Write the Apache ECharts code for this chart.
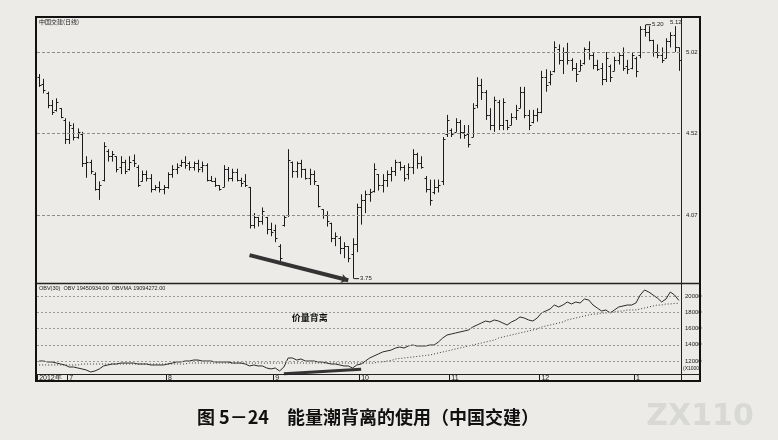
<!DOCTYPE html>
<html><head><meta charset="utf-8">
<script src="https://cdn.jsdelivr.net/npm/echarts@6/dist/echarts.min.js"></script>
<style>html,body{margin:0;padding:0;background:#ecebe7;}#c{width:778px;height:440px;}</style>
</head><body><div id="c"></div>
<script>
// ---- price bars (daily OHLC) ----
const highs=[4.88,4.85,4.77,4.72,4.73,4.67,4.61,4.59,4.58,4.55,
4.53,4.39,4.37,4.30,4.25,4.47,4.43,4.42,4.39,4.39,
4.37,4.39,4.40,4.34,4.31,4.31,4.29,4.23,4.25,4.23,
4.30,4.34,4.35,4.37,4.39,4.36,4.36,4.37,4.36,4.35,
4.28,4.27,4.23,4.34,4.33,4.32,4.32,4.27,4.29,4.22,
4.08,4.06,4.11,4.06,4.03,4.02,3.92,4.07,4.43,4.36,
4.36,4.37,4.32,4.32,4.31,4.23,4.10,4.09,4.03,3.98,
3.96,3.93,3.91,3.95,4.13,4.18,4.20,4.21,4.35,4.29,
4.29,4.31,4.33,4.37,4.36,4.34,4.35,4.43,4.41,4.39,
4.28,4.26,4.26,4.26,4.50,4.63,4.55,4.61,4.60,4.57,
4.57,4.70,4.86,4.85,4.78,4.67,4.74,4.72,4.73,4.60,
4.64,4.69,4.80,4.80,4.66,4.66,4.67,4.90,4.91,4.90,
5.09,5.07,5.05,5.08,4.98,4.95,4.97,5.05,5.09,5.02,
4.97,4.95,5.02,4.94,4.99,5.02,5.05,4.97,5.02,4.99,
5.19,5.20,5.19,5.10,5.07,5.05,5.11,5.15,5.19,5.05];
const lows=[4.80,4.76,4.67,4.63,4.65,4.61,4.46,4.46,4.48,4.49,
4.33,4.27,4.29,4.20,4.15,4.25,4.36,4.36,4.30,4.29,
4.29,4.31,4.33,4.22,4.25,4.25,4.19,4.20,4.19,4.18,
4.21,4.27,4.29,4.33,4.32,4.31,4.31,4.30,4.30,4.25,
4.25,4.22,4.20,4.22,4.25,4.25,4.25,4.22,4.22,4.00,
4.00,4.01,4.02,3.97,3.96,3.93,3.83,4.01,4.06,4.27,
4.27,4.27,4.26,4.23,4.23,4.11,4.05,4.01,3.93,3.91,
3.87,3.85,3.83,3.75,3.88,4.02,4.08,4.14,4.19,4.20,
4.19,4.22,4.25,4.28,4.31,4.25,4.26,4.29,4.32,4.32,
4.19,4.12,4.18,4.19,4.23,4.50,4.50,4.53,4.49,4.49,
4.44,4.50,4.67,4.72,4.60,4.54,4.53,4.54,4.54,4.54,
4.57,4.60,4.67,4.61,4.54,4.58,4.59,4.64,4.77,4.81,
4.89,4.94,4.88,4.94,4.90,4.83,4.90,4.94,4.97,4.91,
4.90,4.81,4.83,4.83,4.90,4.94,4.90,4.88,4.91,4.86,
4.98,5.12,5.09,4.99,4.98,4.95,4.98,5.05,5.02,4.90];
const opens=[4.86,4.82,4.76,4.69,4.66,4.67,4.60,4.49,4.55,4.50,
4.52,4.35,4.36,4.29,4.21,4.26,4.42,4.39,4.39,4.33,
4.36,4.32,4.37,4.33,4.25,4.29,4.27,4.21,4.22,4.21,
4.22,4.29,4.32,4.34,4.36,4.35,4.33,4.35,4.33,4.34,
4.26,4.25,4.23,4.22,4.32,4.27,4.30,4.26,4.25,4.22,
4.02,4.06,4.04,4.06,4.00,3.99,3.91,4.02,4.07,4.36,
4.31,4.35,4.32,4.27,4.29,4.23,4.10,4.07,4.03,3.95,
3.95,3.90,3.91,3.87,3.92,4.11,4.15,4.18,4.20,4.29,
4.23,4.26,4.29,4.31,4.36,4.33,4.29,4.33,4.40,4.35,
4.27,4.21,4.19,4.22,4.25,4.52,4.54,4.53,4.59,4.53,
4.52,4.50,4.69,4.81,4.77,4.63,4.57,4.71,4.57,4.60,
4.57,4.62,4.67,4.77,4.63,4.59,4.63,4.65,4.86,4.83,
4.90,5.04,4.97,5.02,4.97,4.92,4.90,4.95,5.04,5.00,
4.94,4.92,4.85,4.93,4.90,4.97,5.00,4.93,4.92,4.98,
5.00,5.17,5.15,5.10,5.02,5.00,4.98,5.09,5.13,5.05];
const closes=[4.81,4.78,4.69,4.65,4.71,4.62,4.49,4.57,4.50,4.53,
4.35,4.36,4.31,4.21,4.23,4.45,4.39,4.40,4.32,4.36,
4.31,4.36,4.35,4.23,4.29,4.27,4.21,4.22,4.21,4.22,
4.29,4.32,4.33,4.36,4.34,4.33,4.35,4.32,4.34,4.26,
4.25,4.23,4.21,4.32,4.27,4.30,4.26,4.24,4.23,4.02,
4.06,4.04,4.09,4.00,3.98,3.95,3.85,4.06,4.37,4.31,
4.35,4.32,4.27,4.29,4.25,4.12,4.07,4.04,3.95,3.96,
3.90,3.91,3.85,3.92,4.11,4.15,4.18,4.19,4.32,4.23,
4.26,4.29,4.31,4.36,4.33,4.27,4.33,4.40,4.35,4.33,
4.21,4.15,4.22,4.23,4.49,4.60,4.52,4.59,4.53,4.51,
4.46,4.67,4.81,4.77,4.63,4.57,4.72,4.57,4.71,4.56,
4.62,4.66,4.77,4.63,4.57,4.63,4.65,4.86,4.81,4.88,
5.05,4.97,5.02,4.97,4.92,4.88,4.94,5.04,5.00,4.94,
4.91,4.85,4.98,4.86,4.97,5.00,4.92,4.91,5.00,4.90,
5.17,5.15,5.10,5.02,5.00,4.97,5.09,5.13,5.05,4.97];
// ---- OBV and its 30-day average (x1000) ----
const obv=[12000,12000,11880,11880,11750,11630,11510,11260,11260,11140,
11020,10890,10650,10770,11020,11390,11510,11630,11630,11750,
11750,11750,11750,11630,11630,11630,11510,11510,11510,11510,
11630,11750,11880,11880,12000,12000,12120,12120,12000,12000,
12000,11880,11880,11880,11880,11750,11750,11750,11630,11390,
11510,11390,11390,11140,11020,11140,10770,11260,12370,12370,
12120,12250,12000,12000,12000,11880,11880,11750,11630,11630,
11510,11390,11390,11140,11510,11630,12000,12370,12620,12860,
13110,13230,13350,13600,13720,13600,13850,13970,13850,13850,
13850,13970,13970,14340,14830,15200,15320,15450,15570,15690,
15820,16180,16430,16680,16920,16800,17050,16920,16680,16430,
16800,17050,17420,17290,17050,16920,17290,17910,18150,18400,
18890,18650,18890,19260,19020,19260,19140,19630,19510,18890,
18520,18150,18280,17910,18280,18650,18770,18890,18890,19140,
20120,20740,20490,20120,19750,19260,19630,20490,20120,19451];
const obvMa=[11510,11510,11510,11510,11510,11510,11510,11510,11510,11510,
11630,11630,11630,11630,11630,11630,11630,11630,11630,11630,
11630,11630,11630,11630,11630,11630,11630,11630,11630,11630,
11630,11630,11630,11630,11630,11750,11750,11750,11750,11750,
11750,11750,11750,11750,11750,11750,11750,11750,11750,11750,
11750,11750,11750,11750,11750,11750,11750,11750,11750,11750,
11750,11750,11750,11750,11750,11750,11750,11750,11750,11750,
11750,11750,11750,11750,11750,11750,11750,11750,11750,11880,
11880,12000,12060,12250,12310,12370,12430,12490,12560,12620,
12680,12740,12860,12990,13110,13230,13350,13480,13600,13720,
13850,13970,14090,14210,14340,14460,14580,14830,14950,15080,
15200,15320,15450,15570,15690,15820,15940,16180,16310,16430,
16550,16680,16800,17050,17170,17290,17420,17540,17660,17780,
17780,17910,17910,18030,18030,18150,18150,18280,18280,18280,
18400,18520,18650,18770,18890,18890,19020,19020,19094,19094];
// ---- axis texts ----
const monthTicks={0:'2012年',7:'7',30:'8',55:'9',75:'10',96:'11',117:'12',139:'1'};
const priceLines=[4.07,4.52,5.02];
const obvLines=[12000,14000,16000,18000,20000];
const categories=highs.map((_,i)=>String(i));

const chart=echarts.init(document.getElementById('c'),null,{renderer:'canvas'});
const ink='#1c1c1c';
function renderOHLC(params,api){
  const i=api.value(0);
  const o=api.coord([i,api.value(1)]),c=api.coord([i,api.value(2)]),
        l=api.coord([i,api.value(3)]),h=api.coord([i,api.value(4)]);
  const x=Math.round(h[0])+0.5;
  const st={stroke:ink,lineWidth:1};
  const oy=Math.round(o[1])+0.5, cy=Math.round(c[1])+0.5;
  return {type:'group',children:[
    {type:'line',shape:{x1:x,y1:h[1],x2:x,y2:l[1]},style:st},
    {type:'line',shape:{x1:x-2,y1:oy,x2:x,y2:oy},style:st},
    {type:'line',shape:{x1:x,y1:cy,x2:x+2,y2:cy},style:st}
  ]};
}
const tinyFont='Liberation Sans';
chart.setOption({
  animation:false,
  backgroundColor:'#ecebe7',
  grid:[
    {left:37,top:18,width:644,height:265},
    {left:37,top:284,width:644,height:90}
  ],
  xAxis:[
    {type:'category',gridIndex:0,data:categories,boundaryGap:true,show:false},
    {type:'category',gridIndex:1,data:categories,boundaryGap:true,
     axisLine:{show:false},
     axisTick:{show:true,inside:false,length:7,lineStyle:{color:ink},interval:(i)=>monthTicks[i]!==undefined},
     axisLabel:{show:true,interval:(i)=>monthTicks[i]!==undefined,formatter:(v,i)=>monthTicks[i]||'',
       fontSize:7,color:ink,fontFamily:tinyFont,margin:1,align:'left'},
     splitLine:{show:false}}
  ],
  yAxis:[
    {type:'log',gridIndex:0,min:3.729,max:5.245,position:'right',
     axisLine:{show:false},axisTick:{show:false},axisLabel:{show:false},splitLine:{show:false}},
    {type:'value',gridIndex:1,min:10400,max:21477,position:'right',
     axisLine:{show:false},axisTick:{show:false},axisLabel:{show:false},splitLine:{show:false}}
  ],
  series:[
    {type:'custom',xAxisIndex:0,yAxisIndex:0,renderItem:renderOHLC,
     data:highs.map((h,i)=>[i,opens[i],closes[i],lows[i],h]),
     encode:{x:0,y:[1,2,3,4]},
     markLine:{silent:true,symbol:'none',animation:false,
       lineStyle:{type:[3,2],color:'#8c8c8c',width:1},
       label:{position:'end',distance:5,fontSize:6,color:ink,fontFamily:tinyFont,formatter:(p)=>p.value.toFixed(2)},
       data:[
         ...priceLines.map(v=>({yAxis:v})),
         [{coord:[49,3.865],symbol:'none',lineStyle:{type:'solid',color:'#333',width:4},label:{show:false}},
          {coord:[72,3.742],symbol:'arrow',symbolSize:7,lineStyle:{type:'solid',color:'#333',width:4}}]
       ]},
     markPoint:{silent:true,animation:false,symbol:'rect',symbolSize:[5,1],
       itemStyle:{color:ink},
       label:{position:'right',distance:1,fontSize:6,color:ink,fontFamily:tinyFont},
       data:[
         {coord:[141,5.20],symbolOffset:[4,0],label:{formatter:'5.20'}},
         {coord:[73,3.75],symbolOffset:[4,0],label:{formatter:'3.75'}}
       ]}
    },
    {type:'line',name:'OBV',xAxisIndex:1,yAxisIndex:1,data:obv,showSymbol:false,
     lineStyle:{color:'#2a2a2a',width:1},
     markLine:{silent:true,symbol:'none',animation:false,
       lineStyle:{type:[2,2],color:'#9a9a9a',width:1},
       label:{position:'end',distance:4,fontSize:6,color:ink,fontFamily:tinyFont,formatter:(p)=>String(p.value)},
       data:[
         ...obvLines.map(v=>({yAxis:v})),
         [{coord:[57,10430],symbol:'none',lineStyle:{type:'solid',color:'#333',width:3},label:{show:false}},
          {coord:[75,10980],symbol:'none',lineStyle:{type:'solid',color:'#333',width:5}}]
       ]},
     markPoint:{silent:true,animation:false,symbol:'rect',symbolSize:0,
       label:{show:true,position:'inside',fontSize:9,color:'#111',fontWeight:'bold',fontFamily:'Noto Sans CJK SC'},
       data:[{coord:[63,17400],label:{formatter:'价量背离'}}]}
    },
    {type:'line',name:'OBVMA',xAxisIndex:1,yAxisIndex:1,data:obvMa,showSymbol:false,
     lineStyle:{color:'#3a3a3a',width:1,type:[1,2]}}
  ],
  graphic:[
    {type:'rect',shape:{x:36,y:17,width:664,height:364},style:{fill:'none',stroke:'#111',lineWidth:2},silent:true,z:100},
    {type:'line',shape:{x1:681.5,y1:17,x2:681.5,y2:381},style:{stroke:'#222',lineWidth:1},silent:true,z:100},
    {type:'line',shape:{x1:36,y1:283.5,x2:700,y2:283.5},style:{stroke:'#222',lineWidth:1.5},silent:true,z:100},
    {type:'line',shape:{x1:36,y1:374.5,x2:700,y2:374.5},style:{stroke:'#222',lineWidth:1},silent:true,z:100},
    {type:'text',left:39,top:19,style:{text:'中国交建(日线)',fontSize:6,fill:ink,fontFamily:'Noto Sans CJK SC'},z:100},
    {type:'text',left:39,top:285,style:{text:'OBV(30)  OBV 19450934.00  OBVMA 19094272.00',fontSize:5.5,fill:ink,fontFamily:tinyFont},z:100},
    {type:'text',left:683,top:366,style:{text:'(X1000)',fontSize:5,fill:ink,fontFamily:tinyFont},z:100},
    {type:'text',left:670,top:19,style:{text:'5.12',fontSize:6,fill:ink,fontFamily:tinyFont},z:100},
    {type:'text',x:368,y:408,style:{text:'图 5－24　能量潮背离的使用（中国交建）',fontSize:18,fontWeight:'bold',fill:'#111',fontFamily:'Noto Sans CJK SC',align:'center',verticalAlign:'top'},z:100},
    {type:'text',x:700,y:402,style:{text:'ZX110',fontSize:30,fontWeight:'bold',fill:'#d8d8d6',fontFamily:'DejaVu Sans',align:'center',verticalAlign:'top'},z:90}
  ]
});
</script></body></html>
